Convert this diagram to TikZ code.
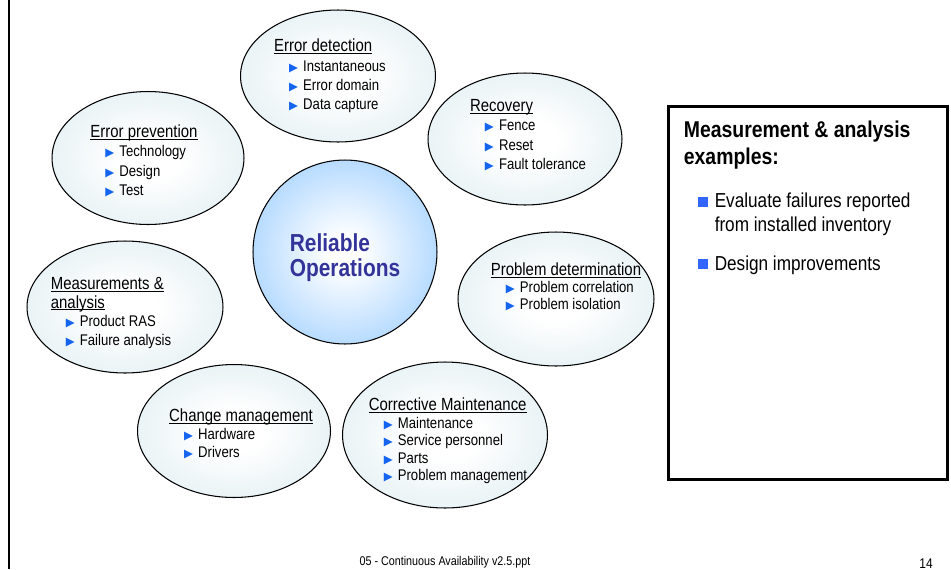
\documentclass[tikz,border=0pt]{standalone}
\usepackage{fontspec}
\setmainfont[FakeStretch=0.85]{Liberation Sans}
\newfontfamily\symfont{DejaVu Sans}
\usetikzlibrary{positioning, shapes.geometric}

\definecolor{ovaledge}{RGB}{212,231,236}
\definecolor{hubedge}{RGB}{153,204,255}
\definecolor{hubtext}{RGB}{51,51,153}
\definecolor{bulblue}{RGB}{20,100,240}
\definecolor{sqblue}{RGB}{51,102,255}

\pgfdeclareradialshading{ovalshade}{\pgfpointorigin}{color(0bp)=(white); color(8bp)=(white); color(42bp)=(ovaledge); color(50bp)=(ovaledge)}
\pgfdeclareradialshading{hubshade}{\pgfpointorigin}{color(0bp)=(white); color(4bp)=(white); color(34bp)=(hubedge); color(50bp)=(hubedge)}

\tikzstyle{topic} = [ellipse, draw, line width=0.6pt, shading=ovalshade, inner sep=0pt]
\tikzstyle{topictext} = [align=left, inner sep=0pt, font=\fontsize{8.8}{11}\selectfont]
\tikzstyle{hub} = [circle, draw, line width=0.6pt, shading=hubshade, inner sep=0pt, minimum size=3.68cm]
\tikzstyle{hubtext} = [align=left, inner sep=0pt, text=hubtext, font=\bfseries\fontsize{14}{14.2}\selectfont]
\tikzstyle{examplebox} = [rectangle, draw, line width=1.7pt, minimum width=5.58cm, minimum height=7.47cm]
\tikzstyle{boxtitle} = [anchor=north west, inner sep=0pt, align=left, font=\bfseries\fontsize{13}{15.3}\selectfont]
\tikzstyle{boxlist} = [anchor=north west, inner sep=0pt, align=left, font=\fontsize{11.5}{13.6}\selectfont]
\tikzstyle{footer} = [inner sep=0pt, anchor=base, font=\fontsize{7.2}{8}\selectfont]

\newcommand{\hd}[1]{{\fontsize{10}{11}\selectfont\setbox0\hbox{#1}\rlap{\rule[-1.3pt]{\wd0}{0.55pt}}\box0}}
\newcommand{\itm}[1]{\hspace*{8.5pt}\makebox[8pt][l]{\textcolor{bulblue}{\symfont\fontsize{6.6}{6.6}\selectfont ▶}}#1}
\newcommand{\sqb}{\makebox[9.6pt][l]{\textcolor{sqblue}{\raisebox{0.6pt}{\rule{5.6pt}{5.6pt}}}}}

\begin{document}
\begin{tikzpicture}[x=0.02cm, y=-0.02cm]
  \useasboundingbox (0,0) rectangle (951,569);

  % Slide border on the left
  \coordinate (frametop) at (9,0);
  \coordinate (framebot) at (9,569);
  \draw[line width=1.7pt] (frametop) -- (framebot);

  % Centre
  \node (hub) [hub] at (345,252) {};
  \node (hub-txt) [hubtext, shift={(0,6)}] at (hub) {Reliable\\Operations};

  % Ring of topics
  \node (errdet) [topic, minimum width=3.9cm, minimum height=2.64cm] at (338,76) {};
  \node (recov) [topic, minimum width=3.88cm, minimum height=2.64cm] at (525,139) {};
  \node (errprev) [topic, minimum width=3.84cm, minimum height=2.66cm] at (148,158) {};
  \node (probdet) [topic, minimum width=3.92cm, minimum height=2.68cm] at (556,299) {};
  \node (measure) [topic, minimum width=3.92cm, minimum height=2.64cm] at (125,307) {};
  \node (change) [topic, minimum width=3.86cm, minimum height=2.66cm] at (234,431) {};
  \node (correct) [topic, minimum width=4.1cm, minimum height=2.92cm] at (445,435) {};

  % Topic texts
  \node (errdet-txt) [topictext, shift={(-8,0)}] at (errdet)
    {\hd{Error detection}\\ \itm{Instantaneous}\\ \itm{Error domain}\\ \itm{Data capture}};
  \node (recov-txt) [topictext, shift={(3,-4)}] at (recov)
    {\hd{Recovery}\\ \itm{Fence}\\ \itm{Reset}\\ \itm{Fault tolerance}};
  \node (errprev-txt) [topictext, shift={(-4,3)}] at (errprev)
    {\hd{Error prevention}\\ \itm{Technology}\\ \itm{Design}\\ \itm{Test}};
  \node (probdet-txt) [topictext, shift={(10,-12)}, font=\fontsize{8.8}{9.8}\selectfont] at (probdet)
    {\hd{Problem determination}\\ \itm{Problem correlation}\\ \itm{Problem isolation}};
  \node (measure-txt) [topictext, shift={(-14,6)}, font=\fontsize{8.8}{10.6}\selectfont] at (measure)
    {\hd{Measurements \&}\\ \hd{analysis}\\ \itm{Product RAS}\\ \itm{Failure analysis}};
  \node (change-txt) [topictext, shift={(7,3)}, font=\fontsize{8.8}{10.3}\selectfont] at (change)
    {\hd{Change management}\\ \itm{Hardware}\\ \itm{Drivers}};
  \node (correct-txt) [topictext, shift={(3,6)}, font=\fontsize{8.8}{10}\selectfont] at (correct)
    {\hd{Corrective Maintenance}\\ \itm{Maintenance}\\ \itm{Service personnel}\\ \itm{Parts}\\ \itm{Problem management}};

  % Examples box
  \node (mabox) [examplebox] at (808,293) {};
  \node (matitle) [boxtitle, below right=0.32cm and 0.33cm of mabox.north west]
    {Measurement \& analysis\\examples:};
  \node (malist) [boxlist, below right=0.46cm and 0.28cm of matitle.south west]
    {\sqb Evaluate failures reported\\ \hspace*{9.6pt}from installed inventory\\[8.5pt] \sqb Design improvements};

  % Footer
  \node (footname) [footer] at (445,565) {05 - Continuous Availability v2.5.ppt};
  \node (pagenum) [footer, font=\fontsize{8}{9}\selectfont] at (926,568) {14};

\end{tikzpicture}
\end{document}
